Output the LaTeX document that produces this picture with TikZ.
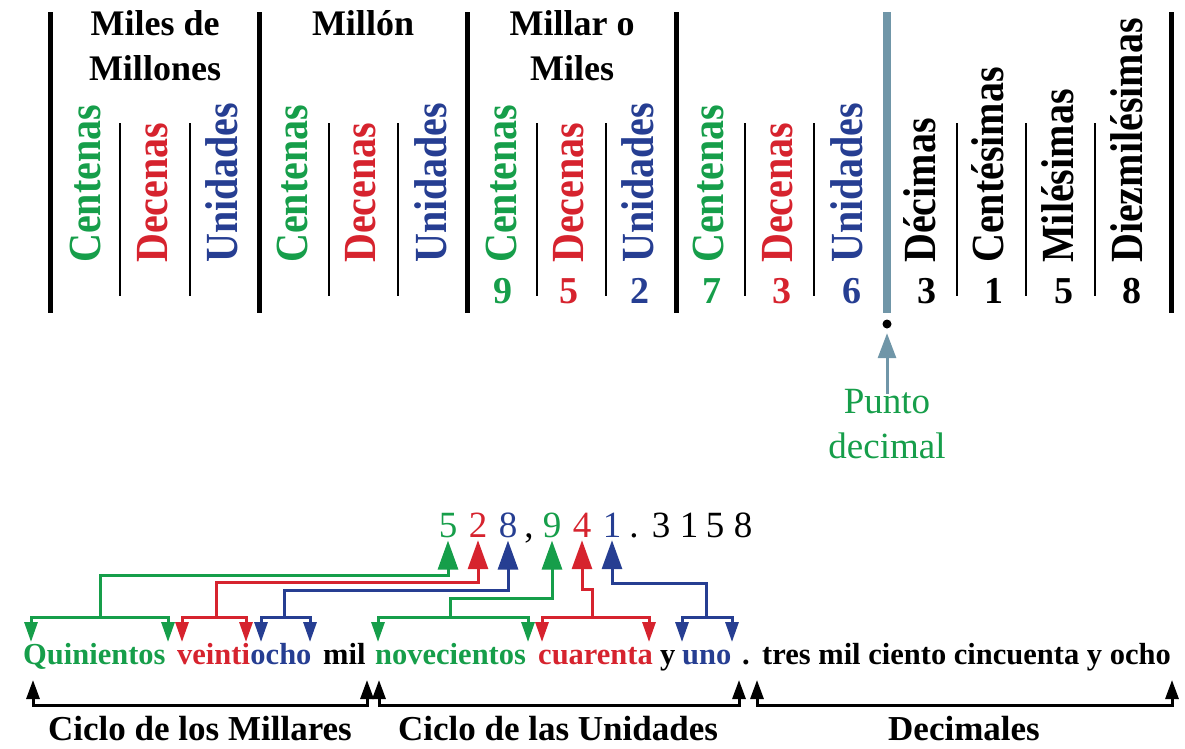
\documentclass[tikz,border=0pt]{standalone}
\usepackage{fontspec}
\usepackage{graphicx}
\setmainfont{Liberation Serif}
\usetikzlibrary{arrows.meta}
\definecolor{gr}{RGB}{22,158,74}
\definecolor{rd}{RGB}{214,35,46}
\definecolor{bl}{RGB}{38,62,146}
\definecolor{bg}{RGB}{112,150,168}
\newcommand{\nar}[1]{\scalebox{0.87}[1]{#1}}
\begin{document}
\begin{tikzpicture}[x=1pt,y=-1pt,
  hdr/.style={anchor=base, inner sep=0, font=\bfseries\fontsize{36}{36}\selectfont},
  lab/.style={rotate=90, anchor=base west, inner sep=0, font=\bfseries\fontsize{46}{46}\selectfont},
  tdig/.style={anchor=base, inner sep=0, font=\bfseries\fontsize{38}{38}\selectfont},
  ndig/.style={anchor=base, inner sep=0, font=\fontsize{37}{37}\selectfont},
  word/.style={anchor=base west, inner sep=0, font=\bfseries\fontsize{30.5}{30.5}\selectfont},
  cyc/.style={anchor=base, inner sep=0, font=\bfseries\fontsize{35}{35}\selectfont},
  sepline/.style={line width=5pt},
  subline/.style={line width=2.5pt},
  conn/.style={line width=3pt},
  bigtip/.style={-{Triangle[width=20pt,length=29pt]}, shorten >=3pt},
  smalltip/.style={-{Triangle[width=13pt,length=20pt]}},
  uptips/.style={{Triangle[width=13pt,length=19pt]}-{Triangle[width=13pt,length=19pt]}}
]
\useasboundingbox (0,0) rectangle (1185,748);

% ---- table lines ----
\foreach \x in {50,259,467,676,1171} \draw[sepline] (\x,12) -- (\x,313);
\draw[line width=8pt, bg] (887,12) -- (887,313);
\foreach \x in {120,190,329,398,537,606,745,814,957,1026,1095} \draw[subline] (\x,123) -- (\x,296);

% ---- headers ----
\node[hdr] (h1a) at (155,35) {Miles de};
\node[hdr] (h1b) at (155,80) {Millones};
\node[hdr] (h2) at (363,35) {Millón};
\node[hdr] (h3a) at (572,35) {Millar o};
\node[hdr] (h3b) at (572,80) {Miles};

% ---- rotated labels ----
\node[lab, gr] (c1) at (100,263) {\nar{Centenas}};
\node[lab, rd] (d1) at (167,263) {\nar{Decenas}};
\node[lab, bl] (u1) at (237,263) {\nar{Unidades}};
\node[lab, gr] (c2) at (307,263) {\nar{Centenas}};
\node[lab, rd] (d2) at (375,263) {\nar{Decenas}};
\node[lab, bl] (u2) at (446,263) {\nar{Unidades}};
\node[lab, gr] (c3) at (516,263) {\nar{Centenas}};
\node[lab, rd] (d3) at (583,263) {\nar{Decenas}};
\node[lab, bl] (u3) at (653,263) {\nar{Unidades}};
\node[lab, gr] (c4) at (723,263) {\nar{Centenas}};
\node[lab, rd] (d4) at (792,263) {\nar{Decenas}};
\node[lab, bl] (u4) at (862,263) {\nar{Unidades}};
\node[lab] (x1) at (935,263) {\nar{Décimas}};
\node[lab] (x2) at (1003,263) {\nar{Centésimas}};
\node[lab] (x3) at (1073,263) {\nar{Milésimas}};
\node[lab] (x4) at (1142,263) {\nar{Diezmilésimas}};

% ---- table digits ----
\node[tdig, gr] (t1) at (503,303) {9};
\node[tdig, rd] (t2) at (569,303) {5};
\node[tdig, bl] (t3) at (640,303) {2};
\node[tdig, gr] (t4) at (712,303) {7};
\node[tdig, rd] (t5) at (782,303) {3};
\node[tdig, bl] (t6) at (852,303) {6};
\node[tdig] (t7) at (927,303) {3};
\node[tdig] (t8) at (994,303) {1};
\node[tdig] (t9) at (1064,303) {5};
\node[tdig] (t10) at (1132,303) {8};

% ---- decimal point ----
\node[circle, fill=black, inner sep=0, minimum size=9pt] (dot) at (887,324) {};
\node[anchor=base, inner sep=0, gr, font=\fontsize{37}{37}\selectfont] (p1) at (887,413) {Punto};
\node[anchor=base, inner sep=0, gr, font=\fontsize{37}{37}\selectfont] (p2) at (887,458) {decimal};
\draw[bg, line width=3pt, -{Triangle[width=18pt,length=25pt]}, shorten <=-5pt, shorten >=4.5pt] (p1.north) -- (dot.south);

% ---- number ----
\node[ndig, gr] (n1) at (448,537) {5};
\node[ndig, rd] (n2) at (478,537) {2};
\node[ndig, bl] (n3) at (508,537) {8};
\node[ndig] (n4) at (529,537) {,};
\node[ndig, gr] (n5) at (552,537) {9};
\node[ndig, rd] (n6) at (582,537) {4};
\node[ndig, bl] (n7) at (612,537) {1};
\node[ndig] (n8) at (634,537) {.};
\node[ndig] (n9) at (661,537) {3};
\node[ndig] (n10) at (689,537) {1};
\node[ndig] (n11) at (715,537) {5};
\node[ndig] (n12) at (743,537) {8};

% ---- words ----
\node[word, gr] (w1) at (23,664) {Quinientos};
\node[word, rd] (w2) at (177,664) {veinti};
\node[word, bl] (w3) at (w2.base east) {ocho};
\node[word] (w4) at (323,664) {mil};
\node[word, gr] (w5) at (375,664) {novecientos};
\node[word, rd] (w6) at (538,664) {cuarenta};
\node[word] (w7) at (660,664) {y};
\node[word, bl] (w8) at (682,664) {uno};
\node[word] (w9) at (742,664) {.};
\node[word] (w10) at (762,664) {tres mil ciento cincuenta y ocho};

% ---- connectors digits -> words ----
\coordinate (g1) at (100,617);
\coordinate (r1) at (216,617);
\coordinate (b1) at (284,617);
\coordinate (g2) at (450,617);
\coordinate (r2) at (592,617);
\coordinate (b2) at (706,617);

\draw[conn, gr, bigtip] (g1) -- (100,575) -- (448,575) -- (n1.south);
\draw[conn, rd, bigtip] (r1) -- (216,582) -- (478,582) -- (n2.south);
\draw[conn, bl, bigtip] (b1) -- (284,590) -- (508,590) -- (n3.south);
\draw[conn, gr, bigtip] (g2) -- (450,598) -- (552,598) -- (n5.south);
\draw[conn, rd, bigtip] (r2) -- (592,589) -- (582,589) -- (n6.south);
\draw[conn, bl, bigtip] (b2) -- (706,583) -- (612,583) -- (n7.south);

\draw[conn, gr, smalltip] (g1) -| (31,642);
\draw[conn, gr, smalltip] (g1) -| (168,642);
\draw[conn, rd, smalltip] (r1) -| (182,642);
\draw[conn, rd, smalltip] (r1) -| (246,642);
\draw[conn, bl, smalltip] (b1) -| (261,642);
\draw[conn, bl, smalltip] (b1) -| (310,642);
\draw[conn, gr, smalltip] (g2) -| (378,642);
\draw[conn, gr, smalltip] (g2) -| (528,642);
\draw[conn, rd, smalltip] (r2) -| (542,642);
\draw[conn, rd, smalltip] (r2) -| (649,642);
\draw[conn, bl, smalltip] (b2) -| (682,642);
\draw[conn, bl, smalltip] (b2) -| (732,642);

% ---- cycle brackets ----
\draw[conn, uptips] (33,680) -- (33,705) -- (367,705) -- (367,680);
\draw[conn, uptips] (379,680) -- (379,705) -- (739,705) -- (739,680);
\draw[conn, uptips] (757,680) -- (757,705) -- (1172,705) -- (1172,680);

\node[cyc] (k1) at (200,740) {Ciclo de los Millares};
\node[cyc] (k2) at (558,740) {Ciclo de las Unidades};
\node[cyc] (k3) at (964,740) {Decimales};
\end{tikzpicture}
\end{document}
